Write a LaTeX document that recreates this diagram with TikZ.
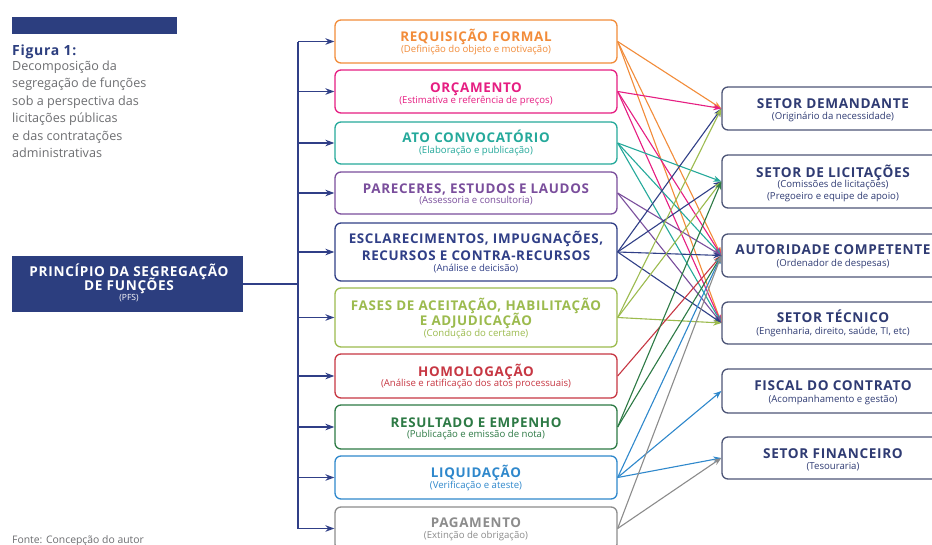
\documentclass[tikz,border=0pt]{standalone}
\usepackage{fontspec}
\setmainfont{Open Sans}
\usetikzlibrary{arrows.meta}
\definecolor{cOr}{HTML}{F28C3A}
\definecolor{cPk}{HTML}{E61E82}
\definecolor{cTl}{HTML}{25A99B}
\definecolor{cPu}{HTML}{7A4E9C}
\definecolor{cNv}{HTML}{303F87}
\definecolor{cOl}{HTML}{9CBB4E}
\definecolor{cRd}{HTML}{C73743}
\definecolor{cGn}{HTML}{2D7A45}
\definecolor{cBl}{HTML}{2F88CC}
\definecolor{cGy}{HTML}{8C8C8C}
\definecolor{cRb}{HTML}{4D5577}
\definecolor{cRt}{HTML}{2F3B73}
\definecolor{cLf}{HTML}{2C3E7F}
\definecolor{cCap}{HTML}{6D6E71}
\newcommand\hdf[1]{\fontsize{#1}{16}\selectfont\bfseries\addfontfeatures{LetterSpace=5}}
\tikzset{
  mbox/.style={draw, rounded corners=6pt, line width=1.3pt, minimum width=282pt, inner sep=0pt, fill=white},
  rbox/.style={draw=cRb, rounded corners=6pt, line width=1.3pt, minimum width=222pt, inner sep=0pt, fill=white},
  hd/.style={anchor=base, inner sep=0pt, font=\hdf{13.4}},
  rhd/.style={anchor=base, inner sep=0pt, text=cRt, font=\hdf{13.6}},
  sb/.style={anchor=base, inner sep=0pt, font=\fontsize{9.6}{11}\selectfont},
  rsb/.style={anchor=base, inner sep=0pt, text=cRt, font=\fontsize{9.6}{11}\selectfont},
  link/.style={line width=1.1pt, -{Stealth[length=8pt,width=6pt]}},
  feed/.style={draw=cNv, line width=1.4pt, -{Stealth[length=9pt,width=6.5pt]}},
  captxt/.style={anchor=base west, inner sep=0pt, text=cCap, font=\fontsize{12.6}{14}\selectfont},
}
\begin{document}
\begin{tikzpicture}[x=1pt,y=-1pt]
\useasboundingbox (0,0) rectangle (932,544);
\clip (0,0) rectangle (932,544);
\fill[white] (0,0) rectangle (932,544);

% caption
\node[fill=cLf, minimum width=165pt, minimum height=17pt, inner sep=0pt] (bar) at (94.5,25) {};
\node[captxt, text=cLf, font=\hdf{14}] (c0) at (12,55) {Figura 1:};
\node[captxt] (c1) at (12,70) {Decomposição da};
\node[captxt] (c2) at (12,87.5) {segregação de funções};
\node[captxt] (c3) at (12,105) {sob a perspectiva das};
\node[captxt] (c4) at (12,122.5) {licitações públicas};
\node[captxt] (c5) at (12,140) {e das contratações};
\node[captxt] (c6) at (12,157.5) {administrativas};
\node[captxt, font=\fontsize{10.4}{11}\selectfont] (src) at (12,543) {Fonte: Concepção do autor};

% left box
\node[fill=cLf, minimum width=231pt, minimum height=56pt, inner sep=0pt] (L) at (127.5,284) {};
\node[hd, text=white, font=\hdf{13.6}] (L1) at (129,276.7) {PRINCÍPIO DA SEGREGAÇÃO};
\node[hd, text=white, font=\hdf{13.6}] (L2) at (129,290.7) {DE FUNÇÕES};
\node[sb, text=white, font=\fontsize{8.5}{10}\selectfont] (L3) at (129,300.5) {(PFS)};

% middle boxes
\node[mbox, draw=cOr, minimum height=43pt] (m1) at (476,41.5) {};
\node[mbox, draw=cPk, minimum height=43pt] (m2) at (476,91.5) {};
\node[mbox, draw=cTl, minimum height=42pt] (m3) at (476,143) {};
\node[mbox, draw=cPu, minimum height=42pt] (m4) at (476,193) {};
\node[mbox, draw=cNv, minimum height=58pt] (m5) at (476,252) {};
\node[mbox, draw=cOl, minimum height=59pt] (m6) at (476,317.5) {};
\node[mbox, draw=cRd, minimum height=44pt] (m7) at (476,376) {};
\node[mbox, draw=cGn, minimum height=44pt] (m8) at (476,427) {};
\node[mbox, draw=cBl, minimum height=43pt] (m9) at (476,477.5) {};
\node[mbox, draw=cGy, minimum height=43pt] (m10) at (476,528.5) {};

\node[hd, text=cOr] (m1h) at (476,41.8) {REQUISIÇÃO FORMAL};
\node[sb, text=cOr] (m1s) at (476,52.5) {(Definição do objeto e motivação)};
\node[hd, text=cPk] (m2h) at (476,92.5) {ORÇAMENTO};
\node[sb, text=cPk] (m2s) at (476,103) {(Estimativa e referência de preços)};
\node[hd, text=cTl] (m3h) at (476,142.5) {ATO CONVOCATÓRIO};
\node[sb, text=cTl] (m3s) at (476,153.5) {(Elaboração e publicação)};
\node[hd, text=cPu] (m4h) at (476,193) {PARECERES, ESTUDOS E LAUDOS};
\node[sb, text=cPu] (m4s) at (476,203.5) {(Assessoria e consultoria)};
\node[hd, text=cNv] (m5h) at (476,243.3) {ESCLARECIMENTOS, IMPUGNAÇÕES,};
\node[hd, text=cNv] (m5i) at (476,260) {RECURSOS E CONTRA-RECURSOS};
\node[sb, text=cNv] (m5s) at (476,271) {(Análise e deicisão)};
\node[hd, text=cOl] (m6h) at (476,310) {FASES DE ACEITAÇÃO, HABILITAÇÃO};
\node[hd, text=cOl] (m6i) at (476,325) {E ADJUDICAÇÃO};
\node[sb, text=cOl] (m6s) at (476,336.5) {(Condução do certame)};
\node[hd, text=cRd] (m7h) at (476,376.5) {HOMOLOGAÇÃO};
\node[sb, text=cRd] (m7s) at (476,386.5) {(Análise e ratificação dos atos processuais)};
\node[hd, text=cGn] (m8h) at (476,427.3) {RESULTADO E EMPENHO};
\node[sb, text=cGn] (m8s) at (476,437.5) {(Publicação e emissão de nota)};
\node[hd, text=cBl] (m9h) at (476,477.3) {LIQUIDAÇÃO};
\node[sb, text=cBl] (m9s) at (476,488) {(Verificação e ateste)};
\node[hd, text=cGy] (m10h) at (476,527.3) {PAGAMENTO};
\node[sb, text=cGy] (m10s) at (476,538.5) {(Extinção de obrigação)};

% right boxes
\node[rbox, minimum height=43pt] (r1) at (833,108.5) {};
\node[rbox, minimum height=53pt] (r2) at (833,181.5) {};
\node[rbox, minimum height=43pt] (r3) at (833,255.5) {};
\node[rbox, minimum height=42pt] (r4) at (833,323) {};
\node[rbox, minimum height=44pt] (r5) at (833,391) {};
\node[rbox, minimum height=42pt] (r6) at (833,458) {};

\node[rhd] (r1h) at (833,108.8) {SETOR DEMANDANTE};
\node[rsb] (r1s) at (833,119) {(Originário da necessidade)};
\node[rhd] (r2h) at (833,177) {SETOR DE LICITAÇÕES};
\node[rsb] (r2s) at (833,187.5) {(Comissões de licitações)};
\node[rsb] (r2t) at (833,199) {(Pregoeiro e equipe de apoio)};
\node[rhd] (r3h) at (833,254.8) {AUTORIDADE COMPETENTE};
\node[rsb] (r3s) at (833,266) {(Ordenador de despesas)};
\node[rhd] (r4h) at (833,322.5) {SETOR TÉCNICO};
\node[rsb] (r4s) at (833,334.5) {(Engenharia, direito, saúde, TI, etc)};
\node[rhd] (r5h) at (833,390.8) {FISCAL DO CONTRATO};
\node[rsb] (r5s) at (833,402) {(Acompanhamento e gestão)};
\node[rhd] (r6h) at (833,458) {SETOR FINANCEIRO};
\node[rsb] (r6s) at (833,469) {(Tesouraria)};

% trunk and feeds
\coordinate (tt) at (298,41.5);
\coordinate (tb) at (298,528.5);
\draw[cNv, line width=1.4pt] (tt) -- (tb);
\draw[cNv, line width=1.4pt] (L.east) -- (L.east -| tt);
\foreach \i in {1,...,10} {
  \draw[feed] (m\i.west -| tt) -- (m\i.west);
}

% links
\draw[link, cOr] (m1.east) -- (r1.west);
\draw[link, cOr] (m1.east) -- (r3.west);
\draw[link, cOr] (m1.east) -- (r4.west);
\draw[link, cPk] (m2.east) -- (r1.west);
\draw[link, cPk] (m2.east) -- (r3.west);
\draw[link, cPk] (m2.east) -- (r4.west);
\draw[link, cTl] (m3.east) -- (r2.west);
\draw[link, cTl] (m3.east) -- (r3.west);
\draw[link, cTl] (m3.east) -- (r4.west);
\draw[link, cPu] (m4.east) -- (r3.west);
\draw[link, cPu] (m4.east) -- (r4.west);
\draw[link, cNv] (m5.east) -- (r1.west);
\draw[link, cNv] (m5.east) -- (r2.west);
\draw[link, cNv] (m5.east) -- (r3.west);
\draw[link, cNv] (m5.east) -- (r4.west);
\draw[link, cOl] (m6.east) -- (r1.west);
\draw[link, cOl] (m6.east) -- (r2.west);
\draw[link, cOl] (m6.east) -- (r4.west);
\draw[link, cRd] (m7.east) -- (r3.west);
\draw[link, cGn] (m8.east) -- (r2.west);
\draw[link, cGn] (m8.east) -- (r3.west);
\draw[link, cBl] (m9.east) -- (r3.west);
\draw[link, cBl] (m9.east) -- (r5.west);
\draw[link, cBl] (m9.east) -- (r6.west);
\draw[link, cGy] (m10.east) -- (r3.west);
\draw[link, cGy] (m10.east) -- (r6.west);
\end{tikzpicture}
\end{document}
